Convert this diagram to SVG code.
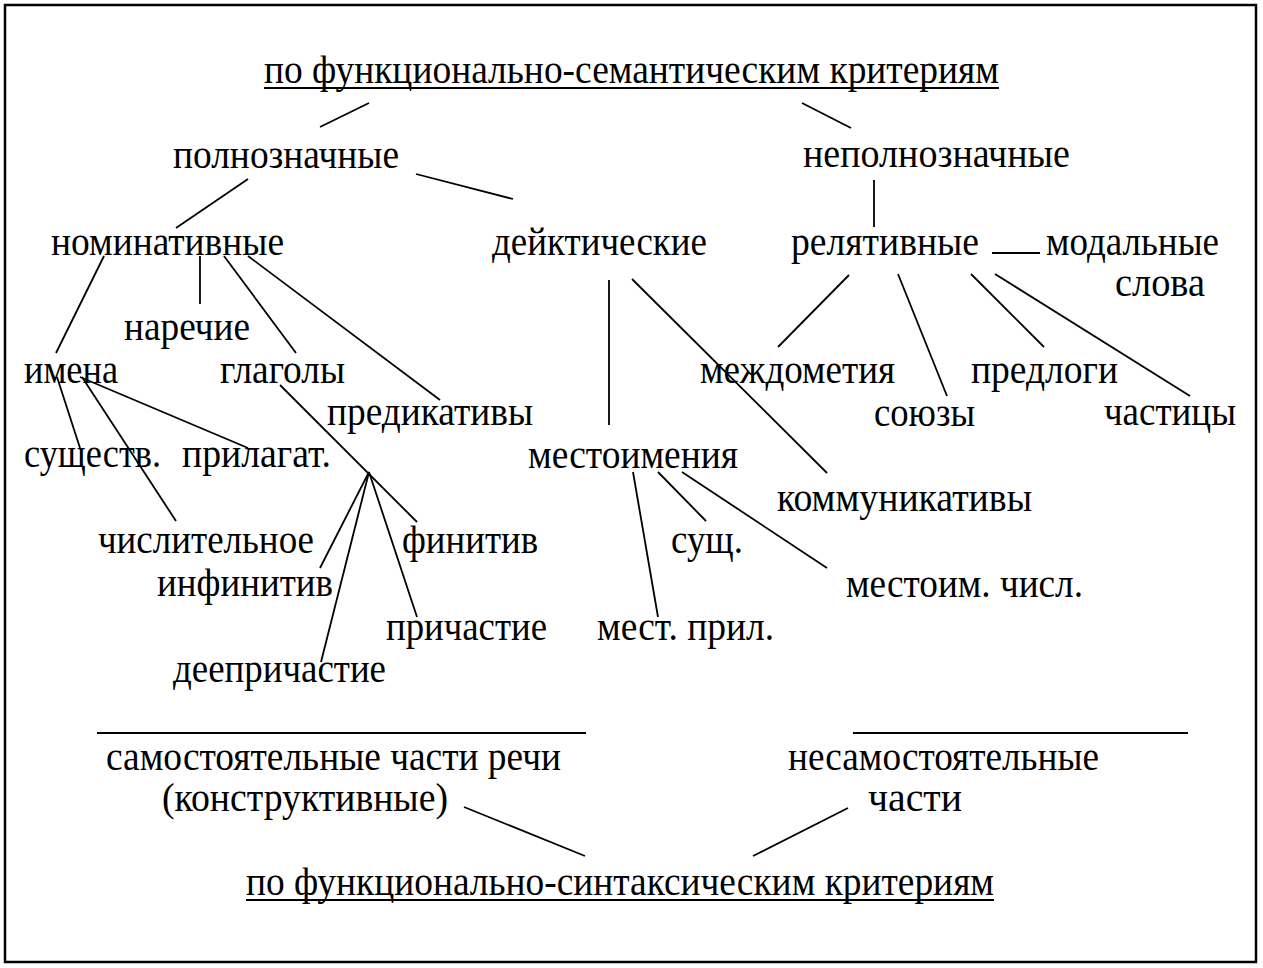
<svg xmlns="http://www.w3.org/2000/svg" width="1263" height="968" viewBox="0 0 1263 968">
<style>
text{font-family:"Liberation Serif","Times New Roman",serif;font-size:39px;fill:#000}
.c line{stroke:#000;stroke-width:1.8;fill:none}
.u{stroke:#000;stroke-width:2.2}
</style>
<rect x="0" y="0" width="1263" height="968" fill="#fff"/>
<rect x="5" y="5" width="1251" height="957" fill="none" stroke="#000" stroke-width="2.5"/>
<g id="title-sem"><text x="264" y="83" textLength="735" lengthAdjust="spacingAndGlyphs">по функционально-семантическим критериям</text><line class="u" x1="264" y1="88" x2="999" y2="88"/></g>
<g id="polnozn"><text x="173" y="168" textLength="226" lengthAdjust="spacingAndGlyphs">полнозначные</text></g>
<g id="nepolnozn"><text x="803" y="167" textLength="267" lengthAdjust="spacingAndGlyphs">неполнозначные</text></g>
<g id="nominat"><text x="51" y="255" textLength="233" lengthAdjust="spacingAndGlyphs">номинативные</text></g>
<g id="deikt"><text x="492" y="255" textLength="215" lengthAdjust="spacingAndGlyphs">дейктические</text></g>
<g id="relat"><text x="791" y="255" textLength="188" lengthAdjust="spacingAndGlyphs">релятивные</text></g>
<g id="modal"><text x="1046" y="255" textLength="173" lengthAdjust="spacingAndGlyphs">модальные</text><text x="1115" y="296" textLength="90" lengthAdjust="spacingAndGlyphs">слова</text></g>
<g id="narech"><text x="124" y="340" textLength="126" lengthAdjust="spacingAndGlyphs">наречие</text></g>
<g id="imena"><text x="24" y="383" textLength="94" lengthAdjust="spacingAndGlyphs">имена</text></g>
<g id="glagoly"><text x="220" y="383" textLength="125" lengthAdjust="spacingAndGlyphs">глаголы</text></g>
<g id="predik"><text x="327" y="425" textLength="206" lengthAdjust="spacingAndGlyphs">предикативы</text></g>
<g id="sushch"><text x="24" y="467" textLength="137" lengthAdjust="spacingAndGlyphs">существ.</text></g>
<g id="prilag"><text x="182" y="467" textLength="149" lengthAdjust="spacingAndGlyphs">прилагат.</text></g>
<g id="chislit"><text x="98" y="553" textLength="216" lengthAdjust="spacingAndGlyphs">числительное</text></g>
<g id="finitiv"><text x="402" y="553" textLength="136" lengthAdjust="spacingAndGlyphs">финитив</text></g>
<g id="infinitiv"><text x="157" y="596" textLength="176" lengthAdjust="spacingAndGlyphs">инфинитив</text></g>
<g id="prichast"><text x="386" y="640" textLength="161" lengthAdjust="spacingAndGlyphs">причастие</text></g>
<g id="deeprich"><text x="173" y="682" textLength="213" lengthAdjust="spacingAndGlyphs">деепричастие</text></g>
<g id="mestoim"><text x="528" y="468" textLength="210" lengthAdjust="spacingAndGlyphs">местоимения</text></g>
<g id="mezhdom"><text x="700" y="383" textLength="195" lengthAdjust="spacingAndGlyphs">междометия</text></g>
<g id="predlogi"><text x="971" y="383" textLength="147" lengthAdjust="spacingAndGlyphs">предлоги</text></g>
<g id="soyuzy"><text x="874" y="426" textLength="101" lengthAdjust="spacingAndGlyphs">союзы</text></g>
<g id="chastitsy"><text x="1104" y="425" textLength="132" lengthAdjust="spacingAndGlyphs">частицы</text></g>
<g id="kommunik"><text x="777" y="511" textLength="255" lengthAdjust="spacingAndGlyphs">коммуникативы</text></g>
<g id="sushch2"><text x="671" y="553" textLength="72" lengthAdjust="spacingAndGlyphs">сущ.</text></g>
<g id="mestoim-chisl"><text x="846" y="597" textLength="237" lengthAdjust="spacingAndGlyphs">местоим. числ.</text></g>
<g id="mest-pril"><text x="597" y="640" textLength="177" lengthAdjust="spacingAndGlyphs">мест. прил.</text></g>
<g id="samost"><line class="u" x1="97" y1="733" x2="586" y2="733"/><text x="106" y="770" textLength="455" lengthAdjust="spacingAndGlyphs">самостоятельные части речи</text><text x="162" y="811" textLength="286" lengthAdjust="spacingAndGlyphs">(конструктивные)</text></g>
<g id="nesamost"><line class="u" x1="853" y1="733" x2="1188" y2="733"/><text x="788" y="770" textLength="311" lengthAdjust="spacingAndGlyphs">несамостоятельные</text><text x="868" y="811" textLength="94" lengthAdjust="spacingAndGlyphs">части</text></g>
<g id="title-synt"><text x="246" y="895" textLength="748" lengthAdjust="spacingAndGlyphs">по функционально-синтаксическим критериям</text><line class="u" x1="246" y1="900" x2="994" y2="900"/></g>
<g id="connectors" class="c">
<line x1="320" y1="127" x2="369" y2="103"/>
<line x1="802" y1="103" x2="851" y2="128"/>
<line x1="248" y1="179" x2="176" y2="228"/>
<line x1="416" y1="174" x2="513" y2="199"/>
<line x1="874" y1="180" x2="874" y2="227"/>
<line x1="992" y1="253" x2="1040" y2="253"/>
<line x1="104" y1="256" x2="56" y2="353"/>
<line x1="200" y1="256" x2="200" y2="304"/>
<line x1="224" y1="256" x2="296" y2="353"/>
<line x1="248" y1="256" x2="440" y2="400"/>
<line x1="57" y1="377" x2="80" y2="448"/>
<line x1="82" y1="377" x2="176" y2="521"/>
<line x1="80" y1="377" x2="248" y2="448"/>
<line x1="280" y1="385" x2="417" y2="522"/>
<line x1="369" y1="472" x2="320" y2="568"/>
<line x1="369" y1="472" x2="321" y2="662"/>
<line x1="369" y1="472" x2="417" y2="617"/>
<line x1="609" y1="280" x2="609" y2="425"/>
<line x1="632" y1="279" x2="827" y2="473"/>
<line x1="849" y1="275" x2="778" y2="347"/>
<line x1="898" y1="274" x2="947" y2="396"/>
<line x1="971" y1="274" x2="1044" y2="347"/>
<line x1="995" y1="274" x2="1190" y2="396"/>
<line x1="633" y1="472" x2="658" y2="617"/>
<line x1="658" y1="472" x2="706" y2="521"/>
<line x1="682" y1="472" x2="827" y2="568"/>
<line x1="464" y1="807" x2="585" y2="856"/>
<line x1="848" y1="808" x2="753" y2="856"/>
</g>
</svg>
